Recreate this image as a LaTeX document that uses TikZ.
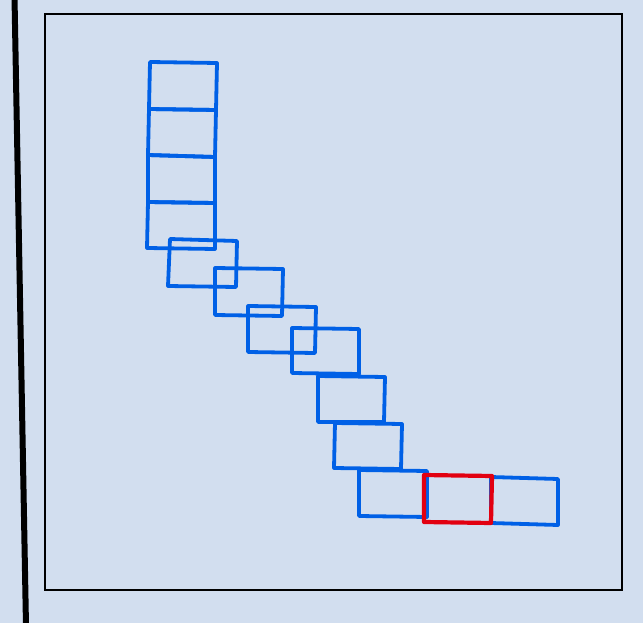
\documentclass[tikz,border=0pt]{standalone}
\definecolor{bg}{RGB}{210,222,239}
\definecolor{tileblue}{RGB}{0,96,230}
\definecolor{tilered}{RGB}{226,0,16}
\tikzset{
  tile/.style={draw=tileblue, line width=3.8pt, line join=round},
  redtile/.style={draw=tilered, line width=4.2pt, line join=round},
  frame/.style={draw=black, line width=2pt},
  wall/.style={draw=black, line width=6pt}
}
\begin{document}
\begin{tikzpicture}[x=1pt,y=-1pt]
\fill[bg] (0,0) rectangle (643,623);
\useasboundingbox (0,0) rectangle (643,623);
\draw[frame] (45,14) rectangle (622,590);
\draw[wall] (14.5,-3) -- (26,626);
% column
\draw[tile] (150,62) -- (217,63) -- (216,110) -- (149,109) -- cycle;
\draw[tile] (149,109) -- (216,110) -- (215,157) -- (148,155) -- cycle;
\draw[tile] (148,155) -- (215,157) -- (215,203) -- (148,202) -- cycle;
\draw[tile] (148,202) -- (215,203) -- (215,249) -- (147,248) -- cycle;
% diagonal
\draw[tile] (170,239) -- (237,241) -- (236,287) -- (168,286) -- cycle;
\draw[tile] (215,268) -- (283,269) -- (282,316) -- (215,315) -- cycle;
\draw[tile] (248,306) -- (316,307) -- (315,353) -- (248,352) -- cycle;
\draw[tile] (292,328) -- (359,329) -- (359,374) -- (292,373) -- cycle;
\draw[tile] (318,376) -- (385,377) -- (384,422) -- (318,422) -- cycle;
\draw[tile] (335,423) -- (402,424) -- (401,469) -- (334,468) -- cycle;
\draw[tile] (359,470) -- (427,471) -- (427,517) -- (359,516) -- cycle;
\draw[tile] (491,477) -- (558,479) -- (558,525) -- (491,523) -- cycle;
\draw[redtile] (424,475) -- (492,476) -- (491,523) -- (424,522) -- cycle;
\end{tikzpicture}
\end{document}
